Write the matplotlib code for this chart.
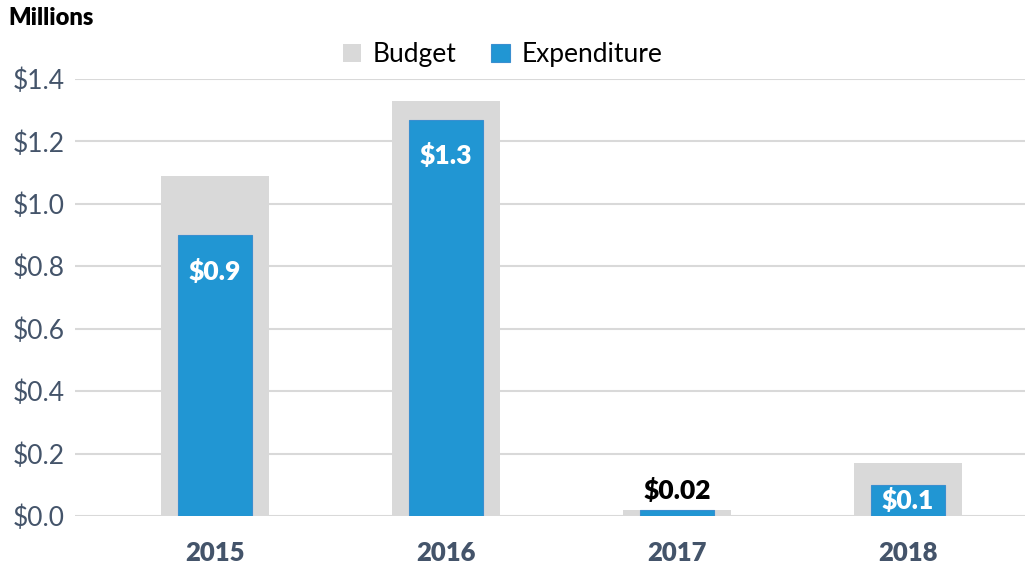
import numpy as np
import matplotlib.pyplot as plt

# Data (millions of dollars)
years = ['2015', '2016', '2017', '2018']
budget = [1.09, 1.33, 0.02, 0.17]
expenditure = [0.90, 1.27, 0.018, 0.099]
exp_labels = ['$0.9', '$1.3', '$0.02', '$0.1']
yticks = [0.0, 0.2, 0.4, 0.6, 0.8, 1.0, 1.2, 1.4]

plt.rcParams['font.family'] = ['Lato', 'DejaVu Sans']

slate = '#44546A'
grey = '#D9D9D9'
blue = '#2196D3'

fig = plt.figure(figsize=(10.25, 5.72), dpi=100)
ax = fig.add_axes([0.073, 0.098, 0.927, 0.764])

x = np.arange(len(years))
ax.bar(x, budget, width=0.47, color=grey, zorder=2, label='Budget')
bars = ax.bar(x, expenditure, width=0.32, color=blue, edgecolor='#3A8FD0',
              linewidth=0.8, zorder=3, label='Expenditure')

# data labels
for xi, val, lab in zip(x, expenditure, exp_labels):
    if val < 0.05:
        ax.annotate(lab, (xi, budget[xi]), xytext=(0, 5), textcoords='offset points',
                    ha='center', va='bottom', fontsize=19, fontweight='heavy', color='black', zorder=4)
    elif val < 0.2:
        ax.text(xi, val / 2, lab, ha='center', va='center', fontsize=19,
                fontweight='heavy', color='white', zorder=4)
    else:
        ax.annotate(lab, (xi, val), xytext=(0, -26), textcoords='offset points',
                    ha='center', va='center', fontsize=19, fontweight='heavy', color='white', zorder=4)

ax.set_ylim(0, 1.4)
ax.set_xlim(-0.606, 3.506)
ax.set_yticks(yticks)
ax.set_yticklabels(['${:.1f}'.format(v) for v in yticks], fontsize=19, color=slate)
ax.set_xticks(x)
ax.set_xticklabels(years, fontsize=18.5, fontweight='heavy', color=slate)
ax.tick_params(axis='both', length=0)
ax.tick_params(axis='x', pad=18)
ax.tick_params(axis='y', pad=7)

ax.grid(axis='y', color=grey, linewidth=1.5, zorder=0)
ax.set_axisbelow(True)
for s in ax.spines.values():
    s.set_visible(False)

fig.text(0.008, 0.968, 'Millions', fontsize=17, fontweight='heavy', ha='left', va='center')

ax.legend(loc='center', bbox_to_anchor=(0.45, 1.055), ncol=2, frameon=False,
          fontsize=19, handlelength=0.7, handleheight=0.7, handletextpad=0.45,
          columnspacing=1.3)

fig.savefig('out.png', dpi=100)
